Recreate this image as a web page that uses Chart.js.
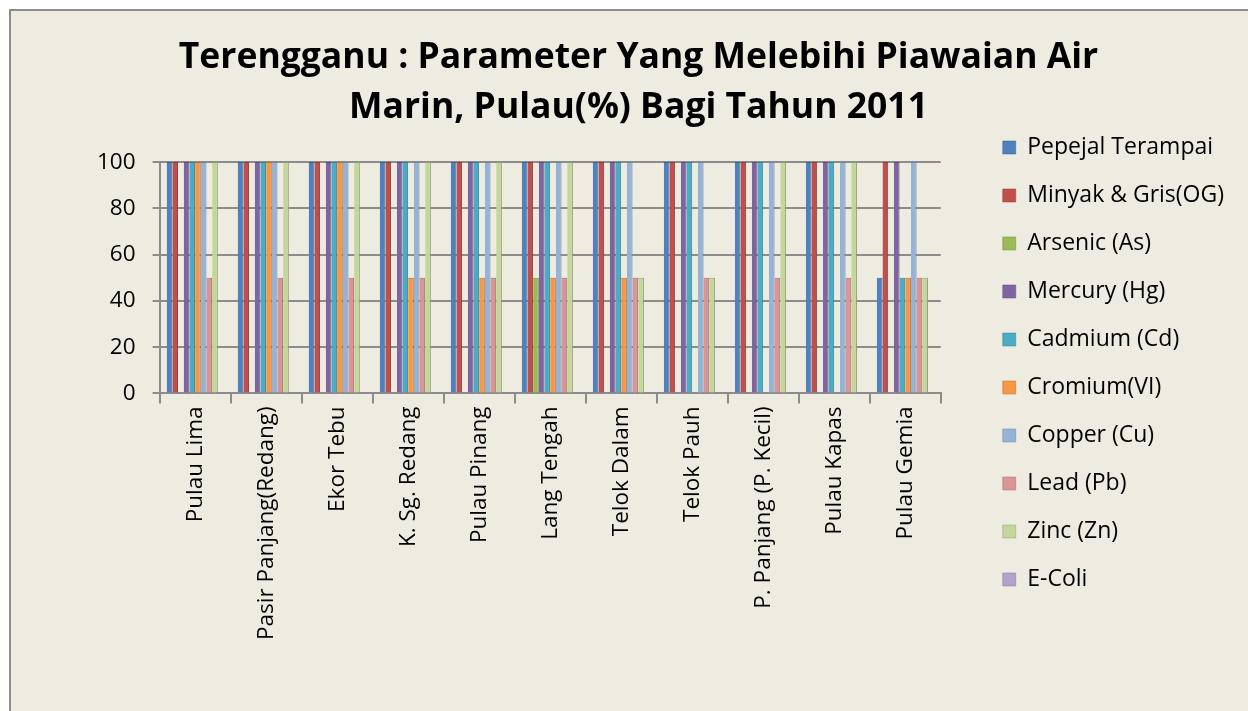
<!DOCTYPE html>
<html lang="ms">
<head>
<meta charset="UTF-8">
<title>Terengganu</title>
<script src="https://cdn.jsdelivr.net/npm/chart.js"></script>
<style>
  html, body { margin: 0; padding: 0; background: #ffffff; }
  #wrap { width: 1248px; height: 711px; position: relative; }
</style>
</head>
<body>
<div id="wrap"><canvas id="myChart" width="1248" height="711"></canvas></div>
<script>
    var categories = ['Pulau Lima', 'Pasir Panjang(Redang)', 'Ekor Tebu', 'K. Sg. Redang', 'Pulau Pinang',
                      'Lang Tengah', 'Telok Dalam', 'Telok Pauh', 'P. Panjang (P. Kecil)', 'Pulau Kapas', 'Pulau Gemia'];

    var series_names = ['Pepejal Terampai', 'Minyak & Gris(OG)', 'Arsenic (As)', 'Mercury (Hg)', 'Cadmium (Cd)',
                        'Cromium(VI)', 'Copper (Cu)', 'Lead (Pb)', 'Zinc (Zn)', 'E-Coli'];

    var pepejal  = [100, 100, 100, 100, 100, 100, 100, 100, 100, 100, 50];
    var minyak   = [100, 100, 100, 100, 100, 100, 100, 100, 100, 100, 100];
    var arsenic  = [0, 0, 0, 0, 0, 50, 0, 0, 0, 0, 0];
    var mercury  = [100, 100, 100, 100, 100, 100, 100, 100, 100, 100, 100];
    var cadmium  = [100, 100, 100, 100, 100, 100, 100, 100, 100, 100, 50];
    var cromium  = [100, 100, 100, 50, 50, 50, 50, 0, 0, 0, 50];
    var copper   = [100, 100, 100, 100, 100, 100, 100, 100, 100, 100, 100];
    var lead     = [50, 50, 50, 50, 50, 50, 50, 50, 50, 50, 50];
    var zinc     = [100, 100, 100, 100, 100, 100, 50, 50, 100, 100, 50];
    var ecoli    = [0, 0, 0, 0, 0, 0, 0, 0, 0, 0, 0];

    var y_ticks = [0, 20, 40, 60, 80, 100];

    var colors = ['#4F81BD', '#C0504D', '#9BBB59', '#8064A2', '#4BACC6',
                  '#F79646', '#95B3D7', '#D99694', '#C3D69B', '#B2A2C7'];
    var edges  = ['#3A6291', '#8E3A38', '#72893F', '#5E4A78', '#378094',
                  '#B76E32', '#6E849F', '#A06E6D', '#909E72', '#837794'];

    var all_values = [pepejal, minyak, arsenic, mercury, cadmium, cromium, copper, lead, zinc, ecoli];

    var FONT = 'Open Sans';

    // background + outer frame like the Excel chart area
    var frame_plugin = {
        id: 'frame',
        beforeDraw: function(chart) {
            var ctx = chart.ctx;
            ctx.save();
            ctx.fillStyle = '#ffffff';
            ctx.fillRect(0, 0, chart.width, chart.height);
            ctx.fillStyle = '#EEECE1';
            ctx.fillRect(10, 10, chart.width, chart.height);
            ctx.strokeStyle = '#8C8C8C';
            ctx.lineWidth = 2;
            ctx.strokeRect(10, 10, chart.width + 10, chart.height + 10);
            ctx.restore();
        }
    };

    // leave a gap between plot and legend: move the legend box to the right
    var legend_shift = {
        id: 'legendShift',
        afterLayout: function(chart) {
            var lg = chart.legend;
            var dx = chart.chartArea.right + 37 - lg.left;
            lg.left += dx;
            lg.right += dx;
        }
    };

    function draw_chart() {
        var ctx = document.getElementById('myChart');
        var datasets = [];
        for (var i = 0; i < series_names.length; i++) {
            datasets.push({
                label: series_names[i],
                data: all_values[i],
                backgroundColor: colors[i],
                borderColor: edges[i],
                borderWidth: {left: 0, right: 1, top: 1, bottom: 0},
                borderSkipped: false,
                barPercentage: 1.0,
                categoryPercentage: 0.8
            });
        }

        return new Chart(ctx, {
            type: 'bar',
            data: {labels: categories, datasets: datasets},
            plugins: [frame_plugin, legend_shift],
            options: {
                responsive: false,
                animation: false,
                layout: {padding: {left: 80, right: 51, top: 33, bottom: 68}},
                scales: {
                    x: {
                        offset: true,
                        grid: {display: true, drawOnChartArea: false, drawTicks: true, tickLength: 10,
                               offset: true, color: '#8C8C8C', lineWidth: 2},
                        border: {display: true, color: '#8C8C8C', width: 2},
                        ticks: {color: '#000', minRotation: 90, maxRotation: 90, autoSkip: false,
                                padding: 3, font: {family: FONT, size: 22.5}}
                    },
                    y: {
                        min: 0,
                        max: 100,
                        afterBuildTicks: function(axis) {
                            axis.ticks = y_ticks.map(function(v) { return {value: v}; });
                        },
                        grid: {color: '#8C8C8C', lineWidth: 2, tickLength: 7},
                        border: {display: true, color: '#8C8C8C', width: 2},
                        ticks: {color: '#000', padding: 17, font: {family: FONT, size: 22.5}}
                    }
                },
                plugins: {
                    title: {
                        display: true,
                        text: ['Terengganu : Parameter Yang Melebihi Piawaian Air', 'Marin, Pulau(%) Bagi Tahun 2011'],
                        color: '#000',
                        font: {family: FONT, size: 35.5, weight: 'bold', lineHeight: 1.41},
                        padding: {top: 0, bottom: 29}
                    },
                    legend: {
                        position: 'right',
                        align: 'start',
                        title: {display: true, text: ' ', font: {size: 20, lineHeight: 1}, padding: {top: 0, bottom: 58}},
                        labels: {
                            color: '#000',
                            boxWidth: 13,
                            boxHeight: 13,
                            padding: 25,
                            font: {family: FONT, size: 23}
                        }
                    },
                    tooltip: {enabled: false}
                }
            }
        });
    }

    draw_chart();
</script>
</body>
</html>
